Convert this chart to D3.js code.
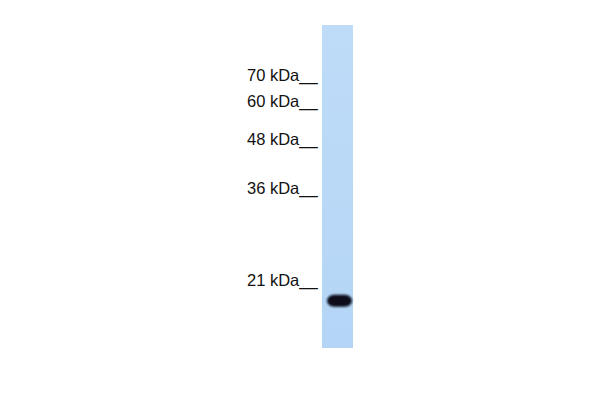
<!DOCTYPE html>
<html>
<head>
<meta charset="utf-8">
<script src="https://cdn.jsdelivr.net/npm/d3@7"></script>
<style>
  body { margin: 0; background: #fff; }
  svg { display: block; }
</style>
</head>
<body>
<div id="blot"></div>
<script>
// marker ladder (kDa) and the detected band
var markers = [70, 60, 48, 36, 21];
var markerLabels = ["70 kDa", "60 kDa", "48 kDa", "36 kDa", "21 kDa"];
var bands = [{ kda: 18.7, intensity: 1.0 }];

var width = 600, height = 400;
var bandColor = "#07111c";

var svg = d3.select("#blot")
    .append("svg")
    .attr("width", width)
    .attr("height", height);

// molecular weight -> vertical position, migration is roughly log-linear
var y = d3.scaleLog()
    .domain([21, 70])
    .range([281, 76]);

var lane = d3.scaleBand()
    .domain(["lane1"])
    .range([322, 353]);

var defs = svg.append("defs");
defs.append("filter")
    .attr("id", "blur")
    .attr("x", "-50%").attr("y", "-50%")
    .attr("width", "200%").attr("height", "200%")
    .append("feGaussianBlur")
    .attr("stdDeviation", "1.3 1.3");

var grad = defs.append("linearGradient")
    .attr("id", "laneGrad")
    .attr("x1", 0).attr("x2", 0).attr("y1", 0).attr("y2", 1);
grad.append("stop").attr("offset", "0%").attr("stop-color", "#bedcf8");
grad.append("stop").attr("offset", "60%").attr("stop-color", "#b9d8f7");
grad.append("stop").attr("offset", "100%").attr("stop-color", "#b4d5f6");

// the lane itself
svg.append("rect")
    .attr("x", lane("lane1"))
    .attr("y", 25)
    .attr("width", lane.bandwidth())
    .attr("height", 323)
    .attr("fill", "url(#laneGrad)");

// bands: a rounded smear, darker in the middle
var bw = 25, bh = 12;
svg.selectAll(".band")
    .data(bands)
    .join("rect")
    .attr("class", "band")
    .attr("x", lane("lane1") + lane.bandwidth() / 2 + 2 - bw / 2)
    .attr("y", d => y(d.kda) - bh / 2)
    .attr("width", bw)
    .attr("height", bh)
    .attr("rx", 7)
    .attr("ry", 6)
    .attr("fill", bandColor)
    .attr("opacity", d => d.intensity)
    .attr("filter", "url(#blur)");

// ladder labels, written with trailing underscores like the original
svg.selectAll(".marker")
    .data(markers)
    .join("text")
    .attr("class", "marker")
    .attr("x", 247)
    .attr("y", d => y(d) + 5)
    .attr("font-family", "Liberation Sans, Arial, sans-serif")
    .attr("font-size", 16.5)
    .attr("fill", "#111")
    .text((d, i) => markerLabels[i] + "__");
</script>
</body>
</html>
